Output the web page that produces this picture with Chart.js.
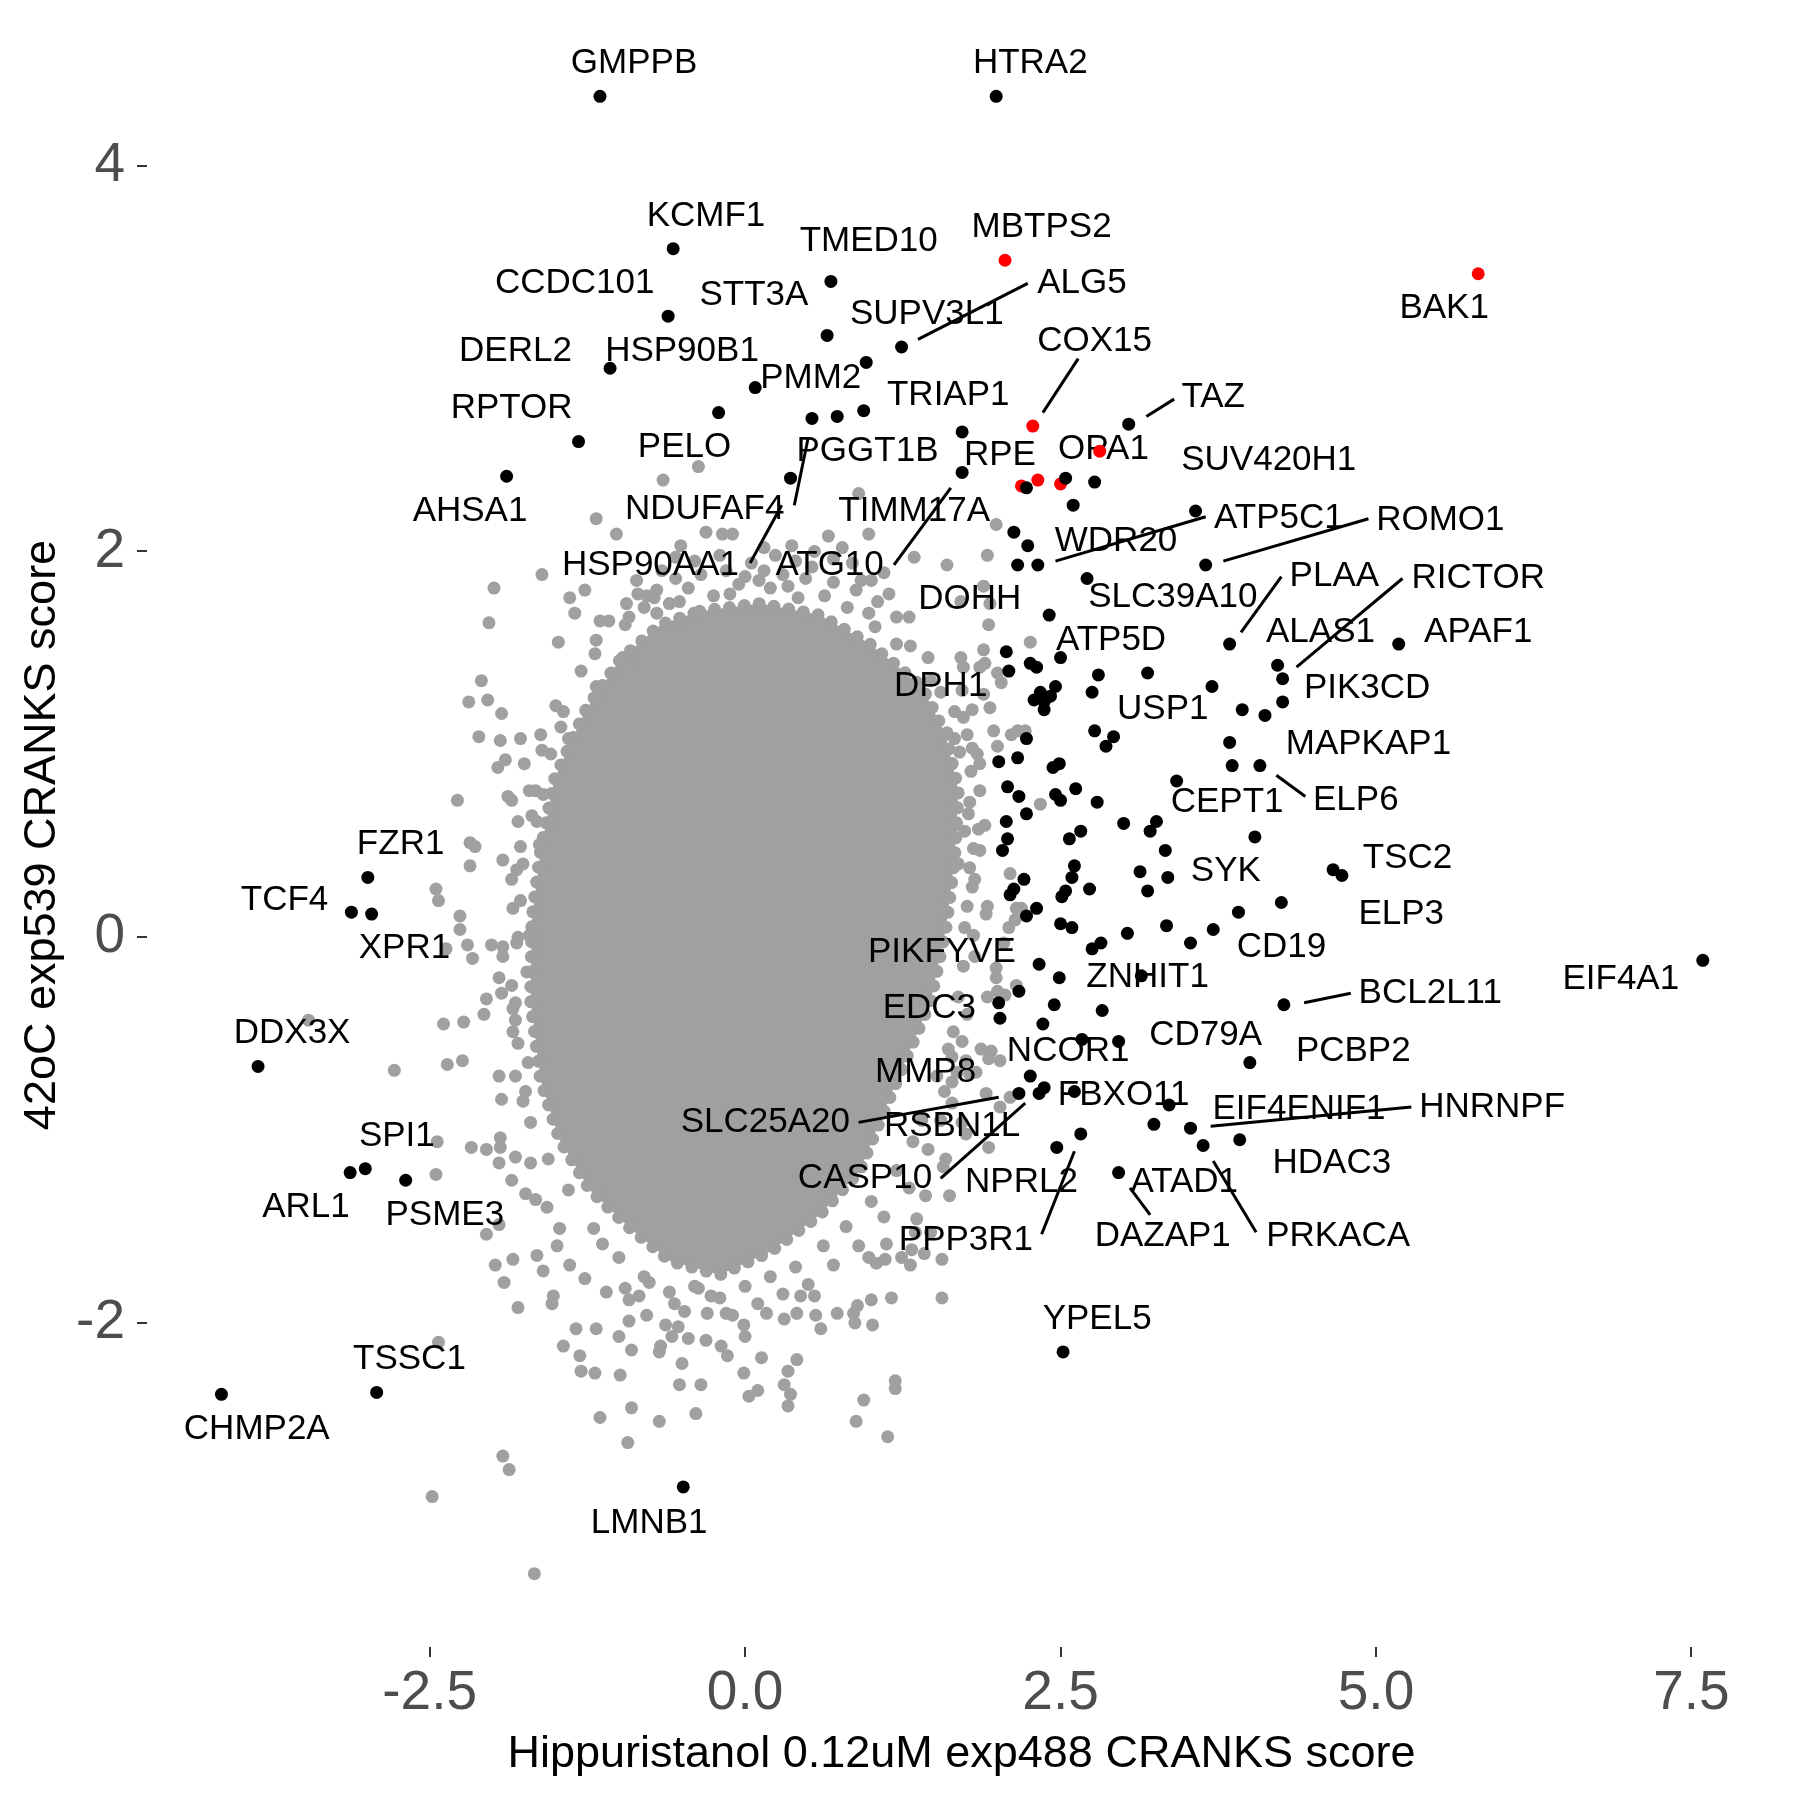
<!DOCTYPE html>
<html>
<head>
<meta charset="utf-8">
<script src="https://cdn.jsdelivr.net/npm/chart.js@4.4.1/dist/chart.umd.min.js"></script>
<style>
  html, body { margin: 0; padding: 0; background: #fff; }
  #wrap { width: 1800px; height: 1800px; }
</style>
</head>
<body>
<div id="wrap"><canvas id="chart" width="1800" height="1800"></canvas></div>
<script>
// axis ticks
const xTicks = [-2.5, 0, 2.5, 5, 7.5];
const yTicks = [-2, 0, 2, 4];

// dense core of the screen (outline of the solid grey cloud)
const blobX = [-0.36, 0.12, 0.59, 0.99, 1.40, 1.59, 1.69, 1.66, 1.59, 1.47, 1.27, 1.07, 0.91, 0.59, 0.20, -0.20, -0.59, -0.91, -1.23, -1.47, -1.62, -1.70, -1.69, -1.62, -1.51, -1.27, -0.99, -0.67];
const blobY = [1.69, 1.73, 1.67, 1.52, 1.30, 1.05, 0.76, 0.40, 0.04, -0.33, -0.64, -0.95, -1.21, -1.44, -1.63, -1.75, -1.68, -1.51, -1.31, -1.05, -0.74, -0.33, 0.09, 0.45, 0.82, 1.17, 1.44, 1.62];

// other genes outside the dense core
const grayX = [
  -0.37, -0.65, -1.18, -1.02, 0.90, 0.98, 0.66, 0.37, -0.51, -0.31, -0.18, -0.10, 0.77, 1.34, 1.60, 1.92, 1.99,
  -1.61, -1.99, -1.27, -1.39, -0.78, -0.72, -0.52, -0.94, -1.35, -2.03, -1.15, -1.08, -0.92, -1.48, -1.18, -0.97, -1.06, -0.92, -1.19,
  0.11, 0.34, 0.53, 0.92, 1.14, -0.12, -0.70, 1.47, 1.73, 1.31, 0.98,
  1.89, 1.94, 1.71, 1.93, 2.26, 1.71, 1.89, 1.90, 2.00, 1.86, 2.03, 1.89, 1.94, 1.73, 1.60, 1.66, 2.00, 1.84, 2.16, 2.22, 2.11, 1.97,
  -2.09, -1.18, -1.16, -2.19, -2.04, -1.93, -1.44, -1.46, -1.61, -1.54, -1.94, -1.78, -1.90, -1.96, -2.11, -1.40,
  -2.28, -1.88, -1.85, -1.66, -1.60, -1.69, -1.65, -2.18, -2.14, -2.18, -1.92, -1.81, -1.76, -1.78, -1.63, -2.45, -2.43, -2.26, -2.26, -1.84, -1.78,
  -2.20, -2.16, -2.01, -1.92, -1.81, -1.66, -1.71, -2.37, -1.92, -1.73, -1.95, -2.05, -1.93, -2.07, -2.39, -2.23, -1.84, -1.82, -1.82, -1.84, -3.46,
  -2.36, -2.24, -1.95, -1.82, -1.93, -2.78, -1.74, -2.17, -2.05, -1.94, -2.45, -1.82, -1.70, -1.85, -2.44, -1.94, -1.95, -1.74, -1.66, -1.57,
  -2.05, -1.95, -1.47, -1.49, -1.98, -1.84, -1.65, -1.91, -1.60, -1.39, -1.80, -1.52, -1.53, -1.34, -1.18, -1.27, -1.13, -1.44, -1.31, -1.30,
  -1.19, -0.99, -1.00, -0.90, -0.92, -1.10, -0.95, -0.92, -0.84, -0.76, -0.78, -0.68, -0.67, -0.50, -0.52, -0.35, -0.90, -1.15, -0.68, -0.39,
  -0.93, -1.92, -1.87, -2.48, -1.67, -2.43,
  -0.56, -0.48, -0.53, -0.63, -0.58, -0.45, -0.31, -0.19, -0.14, -0.15, -0.37, -0.27, -0.01, 0.00, 0.13, -0.01, 0.10, 0.03, 0.17, 0.31,
  0.41, 0.44, 0.55, 0.56, 0.60, 0.41, 0.34, 0.31, 0.36, 0.34, 0.73, 0.86, 1.19, 1.19, 0.94, 0.88, 1.13,
  1.04, 1.31, 1.47, 1.43, 1.59, 2.02, 2.02, 1.83, 1.64,
  1.66, 1.77, 1.85, 1.90, 1.69, 1.78, 1.80, 1.91, 1.72, 1.65, 1.95, 1.91,
  2.34, 2.10, 2.15, 2.09, 1.99, 2.06, 2.14, 2.19, 1.92, 2.05, 1.99, 2.15, 1.92, 2.00,
  1.87, 1.93, 1.64, 1.75, 1.78, 1.58, 1.64, 2.10, 1.93, 1.72, 1.75, 1.57, 1.62, 1.36, 1.35, 1.56, 1.12, 1.32, 1.42, 0.98,
  1.11, 1.24, 1.56, 1.16, 1.00, 0.89, 0.87, 1.01,
  // fringe just outside the core
  -0.80, -0.60, -0.45, -0.25, -0.05, 0.20, 0.42, 0.63, 0.81, 1.03, 1.20, -0.40, 0.05, 0.24, 0.55, 0.85, 1.10, -0.66, -0.86, 1.30,
  1.45, 1.55, 1.66, 1.76, 1.79, 1.86, 1.81, 1.76, 1.81, 1.73, 1.69, 1.61, 1.52, 1.40,
  -0.40, -0.20, 0.00, 0.20, 0.40, 0.62, 0.80, 1.00, 1.20, 1.33, -0.80, -1.00, -1.20, -1.40, -1.56, -1.70, -0.10, 0.10, -0.60,
  -1.75, -1.80, -1.85, -1.80, -1.85, -1.80, -1.76, -1.71, -1.72, -1.62, -1.50, -1.30,
  -0.85, -0.70, -0.55, -0.35, -0.15, 0.00, 0.15, 0.30, 0.48, 0.70, 0.88, 1.05, 1.20, -0.20, 0.40, 0.70, 1.00, -0.55, 0.15, -0.95,
  1.72, 1.80, 1.70, 1.80, 1.86, 1.78, 1.86, 1.74, 1.82, 1.74, 1.82, 1.76, 1.68, 1.55, 1.45, 1.30,
  0.30, 0.50, 0.70, -0.30, 0.90, 1.10
];
const grayY = [
  2.44, 2.37, 2.17, 2.09, 2.30, 2.09, 2.08, 2.03, 2.03, 2.10, 2.09, 2.09, 2.02, 1.97, 1.93, 1.98, 2.14,
  1.88, 1.81, 1.80, 1.76, 1.77, 1.76, 1.74, 1.73, 1.68, 1.63, 1.64, 1.64, 1.66, 1.53, 1.54, 1.45, 1.37, 1.37, 1.47,
  1.85, 1.82, 1.92, 1.85, 1.78, 1.78, 1.68, 1.33, 1.40, 1.51, 1.68,
  1.82, 1.73, 1.74, 1.62, 1.53, 1.45, 1.49, 1.42, 1.37, 1.40, 1.32, 1.26, 1.19, 1.14, 1.06, 1.03, 0.99, 0.95, 1.07, 1.07, 1.05, 1.07,
  1.33, 1.30, 1.24, 1.22, 1.23, 1.16, 1.17, 1.09, 0.97, 0.95, 1.02, 1.03, 0.92, 0.88, 1.04, 1.03,
  0.71, 0.73, 0.71, 0.76, 0.74, 0.63, 0.60, 0.49, 0.47, 0.37, 0.40, 0.35, 0.38, 0.47, 0.48, 0.25, 0.19, 0.11, 0.04, 0.15, 0.19,
  -0.04, -0.11, -0.04, -0.05, -0.03, -0.02, 0.01, -0.06, -0.10, -0.18, -0.21, -0.32, -0.29, -0.40, -0.45, -0.44, -0.37, -0.43, -0.34, -0.49, -0.43,
  -0.66, -0.64, -0.72, -0.72, -0.84, -0.69, -0.80, -1.09, -1.10, -1.09, -1.23, -1.14, -1.17, -1.26, -1.06, -1.04, -1.17, -1.33, -1.36, -1.40,
  -1.54, -1.49, -1.51, -1.60, -1.70, -1.67, -1.65, -1.79, -1.73, -1.70, -1.92, -1.86, -1.90, -2.03, -2.03, -1.77, -1.59, -2.12, -2.17, -2.25,
  -2.26, -2.27, -2.07, -2.14, -1.99, -1.84, -1.82, -1.88, -1.86, -1.79, -1.96, -2.15, -2.12, -2.21, -2.32, -2.32, -2.44, -2.49, -2.51, -2.47,
  -2.62, -2.69, -2.76, -2.90, -3.30, -2.10,
  -1.90, -1.94, -2.02, -2.01, -2.07, -2.08, -2.09, -2.12, -2.17, -1.95, -1.82, -1.86, -2.01, -2.07, -2.18, -2.26, -2.35, -2.38, -1.95, -1.98,
  -1.95, -1.86, -1.86, -1.96, -2.03, -2.19, -2.25, -2.32, -2.37, -2.43, -1.95, -1.95, -2.30, -2.34, -2.40, -2.51, -2.59,
  -1.69, -1.70, -1.53, -1.34, -1.15, -0.88, -0.64, -0.70, -0.75,
  0.58, 0.64, 0.56, 0.58, 0.38, 0.36, 0.26, 0.12, -0.54, -0.49, -0.59, -0.81,
  0.69, 0.33, 0.15, 0.05, -0.21, -0.30, 0.09, 0.15, 0.16, -0.03, -0.16, -0.25, -0.31, -0.28,
  -0.58, -0.63, -0.62, -0.64, -0.71, -0.80, -0.86, -0.83, -1.09, -0.96, -1.02, -1.19, -1.34, -1.46, -1.53, -1.67, -1.59, -1.62, -1.64, -1.66,
  -1.67, -1.66, -1.87, -1.87, -1.88, -1.91, -2.00, -2.01,
  // fringe just outside the core
  1.71, 1.73, 1.81, 1.77, 1.83, 1.81, 1.76, 1.77, 1.71, 1.61, 1.52, 1.95, 1.94, 1.98, 2.00, 1.94, 1.89, 1.90, 1.85, 1.66,
  1.45, 1.27, 1.17, 1.05, 0.86, 0.76, 0.46, 0.16, 0.01, -0.15, -0.31, -0.58, -0.72, -0.95,
  -1.81, -1.87, -1.81, -1.76, -1.71, -1.60, -1.50, -1.37, -1.21, -1.06, -1.76, -1.66, -1.51, -1.31, -1.15, -0.96, -1.96, -1.90, -1.84,
  0.90, 0.60, 0.30, 0.00, -0.25, -0.55, -0.85, 0.76, -0.65, 1.05, 1.20, 1.38,
  1.78, 1.80, 1.86, 1.88, 1.90, 1.87, 1.90, 1.88, 1.86, 1.84, 1.80, 1.74, 1.66, 1.98, 1.95, 1.96, 1.85, 1.97, 2.02, 1.62,
  1.28, 1.18, 0.96, 0.98, 0.90, 0.70, 0.45, 0.55, 0.30, 0.05, -0.10, -0.40, -0.70, -0.95, -1.10, -1.30,
  -1.85, -1.80, -1.70, -1.95, -1.60, -1.45
];

// hits (black)
const hitX = [
  -1.15, 1.99, -0.57, 0.68, -0.61, 0.65, 1.24, 0.96, -1.07, 0.08, -0.21, 0.53, 0.73, 0.94, 1.72, -1.32, -1.89, 1.72, 0.36, 3.04,
  2.23, 2.54, 2.77, 2.60, 3.57, 2.13, 2.24, 2.16, 2.32, 3.65, 2.71, 2.41, 3.84, 5.18, 2.07, 2.26, 2.31, 2.50, 2.80, 3.19,
  4.22, 4.26, 2.09, 3.70, 2.46, 2.34, 2.29, 2.37, 2.37, 2.42, 2.75, 3.94, 4.12, 4.26, 2.77, 2.92, 2.86, 2.23, 3.84, 2.16,
  2.01, 2.49, 2.44, 3.86, 4.08, 3.42, 2.08, 2.17, 2.46, 2.50, 2.62, 2.79, 2.23, 2.07, 3.00, 3.26, 3.21, 2.66, 2.57, 2.08,
  4.04, 2.04, 3.33, 2.61, 2.59, 2.54, 2.51, 2.21, 3.13, 3.35, 2.73, 4.66, 4.73, 2.13, 2.10, 3.19, 4.25, 3.91, 2.31, 2.23,
  2.50, 2.59, 3.34, 3.03, 3.71, 2.82, 2.75, 3.53, 2.33, 2.49, 3.14, 7.59, 2.17, 2.01, 2.02, 4.27, 2.45, 2.83, 2.36, 2.67,
  2.96, 4.00, 2.26, 2.17, 2.37, 2.33, 2.61, 3.36, 3.24, 3.53, 2.66, 2.47, 3.63, 3.92, 2.96, 2.52,
  -2.99, -3.12, -2.96, -3.86, -3.13, -3.01, -2.69, -4.15, -2.92, -0.49
];
const hitY = [
  4.36, 4.36, 3.57, 3.40, 3.22, 3.12, 3.06, 2.98, 2.95, 2.85, 2.72, 2.69, 2.70, 2.73, 2.62, 2.57, 2.39, 2.41, 2.38, 2.66,
  2.33, 2.38, 2.36, 2.24, 2.21, 2.10, 2.03, 1.93, 1.93, 1.93, 1.86, 1.67, 1.52, 1.52, 1.48, 1.42, 1.40, 1.45, 1.36, 1.37,
  1.41, 1.34, 1.38, 1.30, 1.30, 1.27, 1.23, 1.22, 1.18, 1.25, 1.27, 1.18, 1.15, 1.22, 1.07, 1.04, 0.99, 1.03, 1.01, 0.93,
  0.91, 0.90, 0.88, 0.89, 0.89, 0.81, 0.78, 0.73, 0.74, 0.71, 0.77, 0.70, 0.64, 0.60, 0.59, 0.60, 0.55, 0.55, 0.51, 0.51,
  0.52, 0.45, 0.45, 0.37, 0.31, 0.24, 0.21, 0.30, 0.34, 0.31, 0.25, 0.35, 0.32, 0.25, 0.22, 0.24, 0.18, 0.13, 0.15, 0.11,
  0.07, 0.05, 0.06, 0.02, 0.04, -0.03, -0.06, -0.03, -0.14, -0.21, -0.20, -0.12, -0.28, -0.34, -0.42, -0.35, -0.35, -0.38, -0.45, -0.53,
  -0.54, -0.65, -0.72, -0.81, -0.78, -0.81, -0.80, -0.87, -0.97, -0.99, -1.02, -1.09, -1.08, -1.05, -1.22, -2.15,
  0.31, 0.13, 0.12, -0.67, -1.22, -1.20, -1.26, -2.37, -2.36, -2.85
];

// highlighted genes (red)
const redX = [2.06, 5.81, 2.28, 2.81, 2.32, 2.50, 2.19];
const redY = [3.51, 3.44, 2.65, 2.52, 2.37, 2.35, 2.34];

// gene labels (label centre)
const geneNames = ['GMPPB', 'HTRA2', 'KCMF1', 'TMED10', 'MBTPS2', 'CCDC101', 'STT3A', 'ALG5', 'BAK1', 'SUPV3L1',
  'COX15', 'DERL2', 'HSP90B1', 'PMM2', 'TAZ', 'TRIAP1', 'RPTOR', 'PELO', 'PGGT1B', 'OPA1',
  'RPE', 'SUV420H1', 'AHSA1', 'NDUFAF4', 'TIMM17A', 'ATP5C1', 'ROMO1', 'WDR20', 'HSP90AA1', 'ATG10',
  'PLAA', 'RICTOR', 'DOHH', 'SLC39A10', 'ALAS1', 'APAF1', 'ATP5D', 'DPH1', 'PIK3CD', 'USP1',
  'MAPKAP1', 'CEPT1', 'ELP6', 'TSC2', 'SYK', 'ELP3', 'CD19', 'PIKFYVE', 'ZNHIT1', 'EIF4A1',
  'BCL2L11', 'EDC3', 'CD79A', 'NCOR1', 'PCBP2', 'MMP8', 'FBXO11', 'EIF4ENIF1', 'HNRNPF', 'SLC25A20',
  'RSBN1L', 'HDAC3', 'CASP10', 'NPRL2', 'ATAD1', 'DAZAP1', 'PRKACA', 'PPP3R1', 'YPEL5', 'FZR1',
  'TCF4', 'XPR1', 'DDX3X', 'SPI1', 'ARL1', 'PSME3', 'TSSC1', 'CHMP2A', 'LMNB1'];
const geneLabelX = [-0.88, 2.26, -0.31, 0.98, 2.35, -1.35, 0.07, 2.67, 5.54, 1.44,
  2.77, -1.82, -0.50, 0.52, 3.71, 1.61, -1.85, -0.48, 0.97, 2.84,
  2.02, 4.15, -2.18, -0.32, 1.34, 4.23, 5.51, 2.94, -0.75, 0.67,
  4.67, 5.81, 1.78, 3.39, 4.56, 5.81, 2.90, 1.55, 4.93, 3.31,
  4.94, 3.82, 4.84, 5.25, 3.81, 5.20, 4.25, 1.56, 3.19, 6.94,
  5.43, 1.46, 3.65, 2.56, 4.82, 1.43, 3.00, 4.39, 5.92, 0.16,
  1.64, 4.65, 0.95, 2.19, 3.48, 3.31, 4.70, 1.75, 2.79, -2.73,
  -3.65, -2.70, -3.59, -2.76, -3.48, -2.38, -2.66, -3.87, -0.76];
const geneLabelY = [4.53, 4.53, 3.74, 3.61, 3.68, 3.39, 3.33, 3.39, 3.26, 3.23,
  3.09, 3.04, 3.04, 2.90, 2.80, 2.81, 2.74, 2.54, 2.52, 2.53,
  2.50, 2.47, 2.21, 2.22, 2.21, 2.17, 2.16, 2.05, 1.93, 1.93,
  1.87, 1.86, 1.75, 1.76, 1.58, 1.58, 1.54, 1.30, 1.29, 1.18,
  1.00, 0.70, 0.71, 0.41, 0.34, 0.12, -0.05, -0.08, -0.21, -0.22,
  -0.29, -0.37, -0.51, -0.59, -0.59, -0.70, -0.82, -0.89, -0.88, -0.96,
  -0.98, -1.17, -1.25, -1.27, -1.27, -1.55, -1.55, -1.57, -1.98, 0.48,
  0.19, -0.06, -0.50, -1.03, -1.40, -1.44, -2.19, -2.55, -3.04];

// connector lines between labels and their points
const linkX1 = [1.37, 2.36, 3.18, 0.50, 0.29, 1.63, 2.46, 3.79, 3.93, 4.37, 4.21, 4.43, 3.69, 0.90, 1.55, 2.35, 3.21, 4.05];
const linkY1 = [3.10, 2.72, 2.70, 2.59, 2.24, 2.33, 1.95, 1.95, 1.58, 1.40, 0.84, -0.34, -0.98, -0.96, -1.25, -1.54, -1.44, -1.53];
const linkX2 = [2.24, 2.64, 3.40, 0.39, 0.04, 1.18, 3.65, 4.94, 4.25, 5.21, 4.44, 4.80, 5.28, 2.01, 2.22, 2.61, 3.05, 3.71];
const linkY2 = [3.39, 3.00, 2.79, 2.24, 1.94, 1.93, 2.18, 2.17, 1.87, 1.86, 0.73, -0.29, -0.88, -0.83, -0.86, -1.11, -1.30, -1.16];

const fontFamily = "'Liberation Sans', Arial, Helvetica, sans-serif";
const grey = '#A0A0A0';

const toPoints = (xs, ys) => xs.map((v, i) => ({x: v, y: ys[i]}));

// solid grey cloud, with a ring of dots so its edge looks like the points
const blobPlugin = {
    id: 'blob',
    beforeDatasetsDraw(chart) {
        const {ctx, scales: {x, y}} = chart;
        ctx.save();
        ctx.beginPath();
        blobX.forEach((v, i) => {
            const px = x.getPixelForValue(v);
            const py = y.getPixelForValue(blobY[i]);
            if (i === 0) ctx.moveTo(px, py); else ctx.lineTo(px, py);
        });
        ctx.closePath();
        ctx.fillStyle = grey;
        ctx.fill();
        ctx.setLineDash([0, 15]);
        ctx.lineCap = 'round';
        ctx.lineWidth = 13;
        ctx.strokeStyle = grey;
        ctx.stroke();
        ctx.restore();
    }
};

// labels go above the grey layer but under the coloured points
const labelPlugin = {
    id: 'geneLabels',
    afterDatasetDraw(chart, args) {
        if (args.index !== 2) return;
        const {ctx, scales: {x, y}} = chart;
        ctx.save();
        ctx.strokeStyle = '#000';
        ctx.lineWidth = 3;
        linkX1.forEach((v, i) => {
            ctx.beginPath();
            ctx.moveTo(x.getPixelForValue(v), y.getPixelForValue(linkY1[i]));
            ctx.lineTo(x.getPixelForValue(linkX2[i]), y.getPixelForValue(linkY2[i]));
            ctx.stroke();
        });
        ctx.fillStyle = '#000';
        ctx.font = `35px ${fontFamily}`;
        ctx.textAlign = 'center';
        ctx.textBaseline = 'middle';
        geneNames.forEach((name, i) => {
            ctx.fillText(name, x.getPixelForValue(geneLabelX[i]), y.getPixelForValue(geneLabelY[i]));
        });
        ctx.restore();
    }
};

const titlePlugin = {
    id: 'axisTitles',
    afterDraw(chart) {
        const {ctx, chartArea} = chart;
        ctx.save();
        ctx.fillStyle = '#000';
        ctx.font = `45px ${fontFamily}`;
        ctx.textAlign = 'center';
        ctx.textBaseline = 'alphabetic';
        ctx.fillText('Hippuristanol 0.12uM exp488 CRANKS score', (chartArea.left + chartArea.right) / 2, 1767);
        ctx.translate(55, (chartArea.top + chartArea.bottom) / 2);
        ctx.rotate(-Math.PI / 2);
        ctx.fillText('42oC exp539 CRANKS score', 0, 0);
        ctx.restore();
    }
};

const pointStyle = color => ({
    backgroundColor: color,
    borderWidth: 0,
    pointRadius: 6.5,
    pointHoverRadius: 6.5,
    pointBorderWidth: 0
});

// keep the plot panel where the reference has it
const noPadding = s => {
    s.paddingTop = 0;
    s.paddingBottom = 0;
    s.paddingLeft = 0;
    s.paddingRight = 0;
};

new Chart(document.getElementById('chart'), {
    type: 'scatter',
    data: {
        datasets: [
            Object.assign({label: 'hits', data: toPoints(hitX, hitY), order: 1}, pointStyle('#000000')),
            Object.assign({label: 'highlight', data: toPoints(redX, redY), order: 2}, pointStyle('#FF0000')),
            Object.assign({label: 'other', data: toPoints(grayX, grayY), order: 3}, pointStyle(grey))
        ]
    },
    options: {
        responsive: false,
        devicePixelRatio: 1,
        animation: false,
        events: [],
        layout: { padding: { top: 23, right: 24, left: 0, bottom: 0 } },
        plugins: {
            legend: { display: false },
            tooltip: { enabled: false }
        },
        scales: {
            x: {
                type: 'linear',
                min: -4.74,
                max: 8.17,
                afterBuildTicks: s => { s.ticks = xTicks.map(v => ({value: v})); },
                afterFit: s => { s.height = 153; noPadding(s); },
                grid: { drawOnChartArea: false, drawTicks: true, tickLength: 10, color: '#333333', lineWidth: 2 },
                border: { display: false },
                ticks: {
                    color: '#4D4D4D',
                    font: { family: fontFamily, size: 55 },
                    padding: 4,
                    maxRotation: 0,
                    autoSkip: false,
                    callback: v => v.toFixed(1)
                }
            },
            y: {
                type: 'linear',
                min: -3.68,
                max: 4.74,
                afterBuildTicks: s => { s.ticks = yTicks.map(v => ({value: v})); },
                afterFit: s => { s.width = 147; noPadding(s); },
                grid: { drawOnChartArea: false, drawTicks: true, tickLength: 10, color: '#333333', lineWidth: 2 },
                border: { display: false },
                ticks: {
                    color: '#4D4D4D',
                    font: { family: fontFamily, size: 55 },
                    padding: 12,
                    autoSkip: false,
                    callback: v => String(v)
                }
            }
        }
    },
    plugins: [blobPlugin, labelPlugin, titlePlugin]
});
</script>
</body>
</html>
